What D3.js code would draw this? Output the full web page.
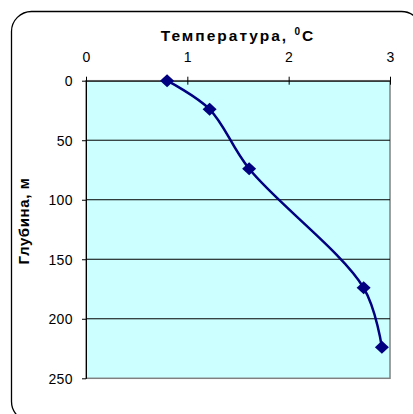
<!DOCTYPE html>
<html><head><meta charset="utf-8">
<script src="https://cdn.jsdelivr.net/npm/d3@7"></script>
<style>body{margin:0;background:#fff}svg{display:block;font-family:"Liberation Sans",Arial,sans-serif}</style>
</head><body><svg id="c" width="413" height="414"></svg>
<script>
const temperature = [0.8, 1.22, 1.61, 2.74, 2.92];
const depth = [0, 24, 74, 174, 224];
const xTicks = [0, 1, 2, 3];
const yTicks = [0, 50, 100, 150, 200, 250];
const title = "Температура, ";
const yTitle = "Глубина, м";

const svg = d3.select("#c");
const L = 86, R = 390, T = 80.7, B = 378.3;
const x = d3.scaleLinear().domain([0, 3]).range([L, R]);
const y = d3.scaleLinear().domain([0, 250]).range([T, B]);

svg.append("rect").attr("x", 11.5).attr("y", 11.5).attr("width", 410).attr("height", 410)
  .attr("rx", 20).attr("fill", "#fff").attr("stroke", "#000").attr("stroke-width", 1.3);

svg.append("rect").attr("x", L).attr("y", T).attr("width", R - L).attr("height", B - T)
  .attr("fill", "#ccffff").attr("stroke", "#808080").attr("stroke-width", 1.5);

svg.append("g").selectAll("line").data(yTicks.filter(d => d > 0 && d < 250)).join("line")
  .attr("x1", L).attr("x2", R).attr("y1", d => y(d)).attr("y2", d => y(d))
  .attr("stroke", "#000").attr("stroke-width", 1);

const xAxis = svg.append("g").attr("transform", `translate(0,${T})`)
  .call(d3.axisTop(x).tickValues(xTicks).tickFormat(d3.format("d")).tickSizeInner(4).tickSizeOuter(0).tickPadding(6));
xAxis.selectAll(".tick line").attr("y2", 4).attr("y1", -4);
xAxis.selectAll("text").attr("y", -18.5).attr("dy", 0);
const yAxis = svg.append("g").attr("transform", `translate(${L},0)`)
  .call(d3.axisLeft(y).tickValues(yTicks).tickFormat(d3.format("d")).tickSizeInner(4).tickSizeOuter(0).tickPadding(10));
[xAxis, yAxis].forEach(g => {
  g.select(".domain").attr("stroke", "#000").attr("stroke-width", 1);
  g.selectAll(".tick line").attr("stroke", "#000");
  g.selectAll("text").attr("font-size", 14).attr("fill", "#000").attr("letter-spacing", 0.4)
    .attr("font-family", "Liberation Sans, Arial, sans-serif");
});
yAxis.selectAll(".tick line").attr("x1", 0).attr("x2", -4);
yAxis.selectAll("text").attr("x", -13).attr("dy", "0.36em");

const t = svg.append("text").attr("x", (L + R) / 2).attr("y", 41).attr("text-anchor", "middle")
  .attr("font-size", 15.5).attr("font-weight", "bold").attr("letter-spacing", 2).text(title);
t.append("tspan").attr("font-size", 10).attr("dy", -6).text("0");
t.append("tspan").attr("dy", 6).text("C");

svg.append("text").attr("transform", `translate(29,221) rotate(-90)`)
  .attr("text-anchor", "middle").attr("font-size", 15).attr("font-weight", "bold")
  .attr("letter-spacing", 0.6).text(yTitle);

const pts = temperature.map((v, i) => [x(v), y(depth[i])]);
svg.append("path").attr("d", d3.line().curve(d3.curveCatmullRom.alpha(0.5))(pts))
  .attr("fill", "none").attr("stroke", "#000080").attr("stroke-width", 2.5);
svg.append("g").selectAll("path").data(pts).join("path")
  .attr("transform", d => `translate(${d[0]},${d[1]})`)
  .attr("d", "M0,-6.5L7,0L0,6.5L-7,0Z").attr("fill", "#000080");
</script></body></html>
